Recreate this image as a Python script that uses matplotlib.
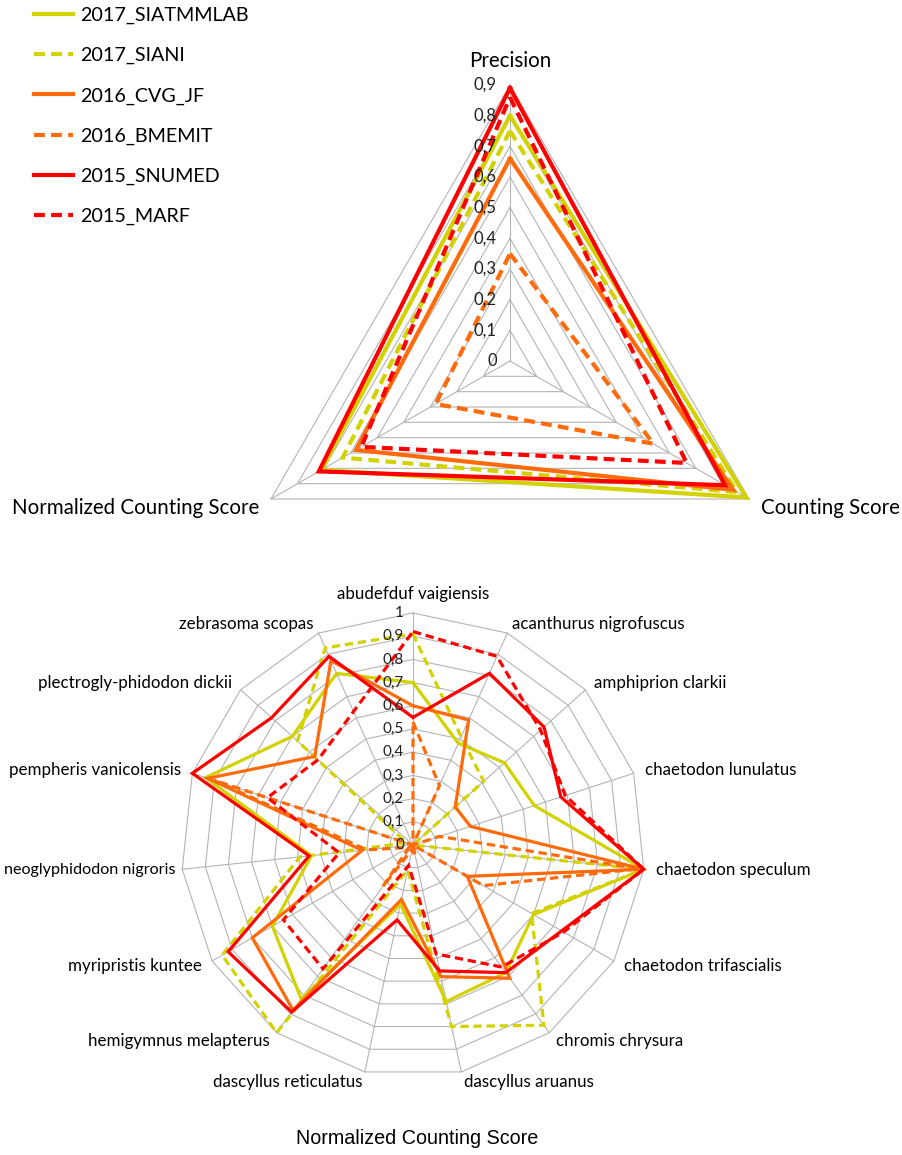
import numpy as np
import matplotlib
matplotlib.use("Agg")
import matplotlib.pyplot as plt

# ---------------- data ----------------
teams = ['2017_SIATMMLAB', '2017_SIANI', '2016_CVG_JF', '2016_BMEMIT', '2015_SNUMED', '2015_MARF']

top_axes = ['Precision', 'Counting Score', 'Normalized Counting Score']
siatmmlab_top = [0.80, 0.89, 0.71]
siani_top = [0.75, 0.855, 0.63]
cvg_top = [0.66, 0.84, 0.58]
bmemit_top = [0.35, 0.54, 0.28]
snumed_top = [0.89, 0.81, 0.72]
marf_top = [0.86, 0.665, 0.56]
top_ticks = [0, 0.1, 0.2, 0.3, 0.4, 0.5, 0.6, 0.7, 0.8, 0.9]
top_tick_labels = ['0', '0,1', '0,2', '0,3', '0,4', '0,5', '0,6', '0,7', '0,8', '0,9']

species = ['abudefduf vaigiensis', 'acanthurus nigrofuscus', 'amphiprion clarkii',
           'chaetodon lunulatus', 'chaetodon speculum', 'chaetodon trifascialis',
           'chromis chrysura', 'dascyllus aruanus', 'dascyllus reticulatus',
           'hemigymnus melapterus', 'myripristis kuntee', 'neoglyphidodon nigroris',
           'pempheris vanicolensis', 'plectrogly-phidodon dickii', 'zebrasoma scopas']
siatmmlab = [0.70, 0.48, 0.53, 0.55, 1.0, 0.60, 0.68, 0.69, 0.26, 0.82, 0.70, 0.44, 0.94, 0.70, 0.81]
siani = [0.91, 0.51, 0.41, 0.0, 1.0, 0.59, 0.96, 0.80, 0.11, 1.0, 0.95, 0.49, 0.03, 0.67, 0.93]
cvg = [0.60, 0.59, 0.245, 0.26, 1.0, 0.27, 0.71, 0.58, 0.24, 0.88, 0.80, 0.22, 0.93, 0.57, 0.87]
bmemit = [0.53, 0.28, 0.0, 0.12, 0.98, 0.35, 0.0, 0.05, 0.02, 0.22, 0.02, 0.20, 0.90, 0.0, 0.0]
snumed = [0.55, 0.81, 0.76, 0.67, 1.0, 0.74, 0.68, 0.555, 0.33, 0.89, 0.92, 0.45, 1.0, 0.82, 0.89]
marf = [0.92, 0.89, 0.74, 0.69, 1.0, 0.75, 0.65, 0.48, 0.09, 0.66, 0.645, 0.32, 0.66, 0.55, 0.63]
bottom_ticks = [0, 0.1, 0.2, 0.3, 0.4, 0.5, 0.6, 0.7, 0.8, 0.9, 1.0]
bottom_tick_labels = ['0', '0,1', '0,2', '0,3', '0,4', '0,5', '0,6', '0,7', '0,8', '0,9', '1']

# ---------------- styles ----------------
YEL = '#D2D200'
ORA = '#FF6A0A'
RED = '#FF0000'
colors = [YEL, YEL, ORA, ORA, RED, RED]
dashed = [False, True, False, True, False, True]
GRID = '#B4B4B4'
FONT = 'Lato'

fig = plt.figure(figsize=(9.03, 11.55), dpi=100)
W, H = 903.0, 1155.0


def radar_axes(cx, cy, R):
    ax = fig.add_axes([(cx - R) / W, (H - cy - R) / H, 2 * R / W, 2 * R / H],
                      projection='polar')
    ax.set_theta_offset(np.pi / 2)
    ax.set_theta_direction(-1)
    ax.grid(False)
    ax.spines['polar'].set_visible(False)
    ax.set_xticks([])
    ax.set_yticks([])
    ax.patch.set_visible(False)
    return ax


def draw_grid(ax, n, ticks):
    ang = np.linspace(0, 2 * np.pi, n, endpoint=False)
    angc = np.append(ang, ang[0])
    for t in ticks[1:]:
        ax.plot(angc, [t] * (n + 1), color=GRID, lw=0.8, zorder=1, clip_on=False)
    for a in ang:
        ax.plot([a, a], [0, ticks[-1]], color=GRID, lw=0.8, zorder=1, clip_on=False)
    return ang


def draw_series(ax, ang, vals, color, dash, lw):
    v = list(vals) + [vals[0]]
    a = np.append(ang, ang[0])
    kw = dict(color=color, lw=lw, zorder=3, clip_on=False, solid_joinstyle='miter')
    if dash:
        line, = ax.plot(a, v, dashes=(2.6, 1.5), dash_joinstyle='miter', **kw)
    else:
        line, = ax.plot(a, v, **kw)
    return line


# ---------------- top chart ----------------
ax1 = radar_axes(510, 361, 276)
ax1.set_ylim(0, 0.9)
ang1 = draw_grid(ax1, 3, top_ticks)
handles = []
for vals, c, d in zip([siatmmlab_top, siani_top, cvg_top, bmemit_top, snumed_top, marf_top],
                      colors, dashed):
    handles.append(draw_series(ax1, ang1, vals, c, d, 3.0))
for t, lab in zip(top_ticks, top_tick_labels):
    ax1.annotate(lab, xy=(0, t), xytext=(-13, 0), textcoords='offset pixels',
                 ha='right', va='center', fontsize=12, family=FONT, color='#202020')
ax1.annotate(top_axes[0], xy=(ang1[0], 0.9), xytext=(0, 24), textcoords='offset pixels',
             ha='center', va='center', fontsize=14.8, family=FONT)
ax1.annotate(top_axes[1], xy=(ang1[1], 0.9), xytext=(12, -9), textcoords='offset pixels',
             ha='left', va='center', fontsize=14.8, family=FONT)
ax1.annotate(top_axes[2], xy=(ang1[2], 0.9), xytext=(-12, -9), textcoords='offset pixels',
             ha='right', va='center', fontsize=14.8, family=FONT)

# ---------------- bottom chart ----------------
ax2 = radar_axes(413, 845, 232)
ax2.set_ylim(0, 1.0)
ang2 = draw_grid(ax2, len(species), bottom_ticks)
for vals, c, d in zip([siatmmlab, siani, cvg, bmemit, snumed, marf], colors, dashed):
    draw_series(ax2, ang2, vals, c, d, 2.3)
for t, lab in zip(bottom_ticks, bottom_tick_labels):
    ax2.annotate(lab, xy=(0, t), xytext=(-9, 0), textcoords='offset pixels',
                 ha='right', va='center', fontsize=11, family=FONT, color='#202020')
for th, name in zip(ang2, species):
    a = np.pi / 2 - th
    ca, sa = np.cos(a), np.sin(a)
    fs = 12.2
    if abs(ca) < 0.05:
        ha, dx, dy = 'center', 0, 19
    else:
        ha = 'left' if ca > 0 else 'right'
        dx, dy = 12 * ca, 10 * sa
    if len(name) > 22 and ca < -0.9:
        fs, dx = 11.6, 7 * ca   # keep the long left-hand label inside the canvas
    ax2.annotate(name, xy=(th, 1.0), xytext=(dx, dy), textcoords='offset pixels',
                 ha=ha, va='center', fontsize=fs, family=FONT, annotation_clip=False)

fig.text(417 / W, 1 - 1138 / H, 'Normalized Counting Score', ha='center', va='center',
         fontsize=14.2, family='Liberation Sans')

# ---------------- legend ----------------
fig.legend(handles, teams, loc='upper left', bbox_to_anchor=(34 / W, 1 - 7 / H),
           frameon=False, prop={'family': FONT, 'size': 14.2},
           handlelength=2.0, handletextpad=0.33, labelspacing=1.16,
           borderpad=0, borderaxespad=0)

fig.savefig('out.png', dpi=100)
